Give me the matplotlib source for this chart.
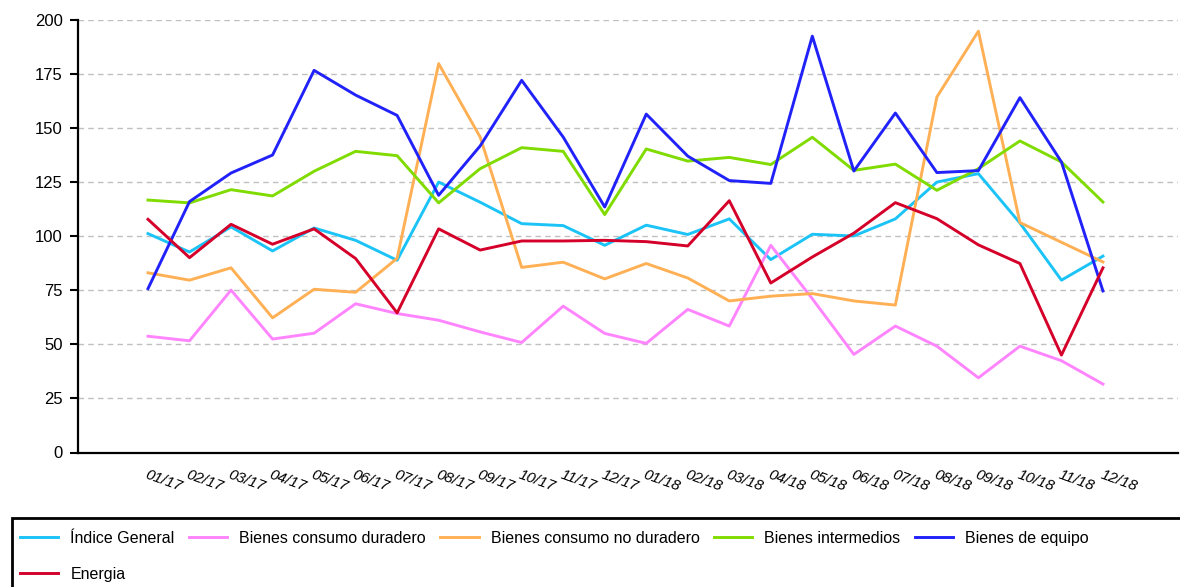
import matplotlib
matplotlib.use('Agg')
from matplotlib import pyplot as plt
from matplotlib.patches import Rectangle

plt.rcParams['font.family'] = ['Liberation Sans', 'DejaVu Sans']

# meses
meses = ['01/17', '02/17', '03/17', '04/17', '05/17', '06/17', '07/17', '08/17',
         '09/17', '10/17', '11/17', '12/17', '01/18', '02/18', '03/18', '04/18',
         '05/18', '06/18', '07/18', '08/18', '09/18', '10/18', '11/18', '12/18']

indice_general = [101.1, 92.6, 104.2, 93.1, 103.7, 98.0, 88.8, 124.9,
                  115.6, 105.7, 104.8, 95.7, 105.0, 100.7, 107.9, 89.1,
                  100.8, 100.0, 107.9, 124.9, 128.8, 106.0, 79.6, 90.7]
consumo_duradero = [53.7, 51.6, 75.0, 52.4, 55.1, 68.7, 64.2, 61.1,
                    55.7, 50.8, 67.6, 55.0, 50.4, 66.1, 58.4, 95.7,
                    71.0, 45.3, 58.4, 49.1, 34.5, 49.1, 42.4, 31.6]
consumo_no_duradero = [83.0, 79.6, 85.3, 62.2, 75.4, 74.0, 89.7, 179.6,
                       145.7, 85.5, 87.9, 80.2, 87.3, 80.6, 70.0, 72.2,
                       73.4, 70.0, 68.1, 164.2, 194.6, 106.2, 97.1, 88.0]
intermedios = [116.6, 115.3, 121.4, 118.5, 129.9, 139.1, 137.1, 115.3,
               131.1, 140.8, 139.1, 109.9, 140.2, 134.6, 136.3, 133.0,
               145.6, 130.3, 133.2, 121.1, 131.1, 143.9, 134.2, 115.7]
equipo = [75.7, 115.9, 129.1, 137.4, 176.5, 165.1, 155.7, 118.8,
          141.6, 171.9, 145.7, 113.4, 156.3, 136.9, 125.6, 124.3,
          192.3, 130.0, 156.8, 129.3, 130.2, 163.9, 134.2, 74.6]
energia = [107.7, 90.0, 105.4, 96.2, 103.3, 89.6, 64.5, 103.3,
           93.5, 97.7, 97.7, 98.0, 97.4, 95.4, 116.3, 78.3,
           90.3, 101.3, 115.4, 108.0, 95.9, 87.3, 45.0, 85.3]

series = [
    ('Índice General', indice_general, '#1cc3f7'),
    ('Bienes consumo duradero', consumo_duradero, '#ff85ff'),
    ('Bienes consumo no duradero', consumo_no_duradero, '#ffb055'),
    ('Bienes intermedios', intermedios, '#80dc00'),
    ('Bienes de equipo', equipo, '#2121fa'),
    ('Energia', energia, '#d4002a'),
]

fig = plt.figure(figsize=(11.8, 5.87), dpi=100)
ax = fig.add_axes([78/1180, 1-452.5/587, 1100/1180, 433/587])

x = list(range(len(meses)))
handles = []
for nombre, valores, color in series:
    h, = ax.plot(x, valores, color=color, linewidth=2.1, label=nombre)
    handles.append(h)

ax.set_ylim(0, 200)
ax.set_xlim(-70/41.52, -70/41.52 + 1100/41.52)
ax.set_yticks(range(0, 201, 25))
ax.yaxis.grid(True, color='#c0c0c0', linestyle=(0, (4, 3)), linewidth=1.0)
ax.set_axisbelow(True)

for s in ['top', 'right']:
    ax.spines[s].set_visible(False)
ax.spines['left'].set_linewidth(1.6)
ax.spines['bottom'].set_linewidth(1.6)

ax.tick_params(axis='y', length=6, width=1.5, pad=5, labelsize=12)
ax.tick_params(axis='x', length=0, pad=11)
ax.set_xticks(x)
ax.set_xticklabels(meses, rotation=-20, ha='left', va='top', rotation_mode='anchor',
                   fontsize=11, style='italic')

# leyenda (orden por columnas)
orden = [0, 5, 1, 2, 3, 4]
fig.legend([handles[i] for i in orden], [series[i][0] for i in orden],
           loc='upper left', bbox_to_anchor=(20/1180, 1-531/587), ncol=5,
           frameon=False, fontsize=11.5, handlelength=2.4, handletextpad=0.75,
           columnspacing=0.9, labelspacing=1.3, borderpad=0, borderaxespad=0)
fig.add_artist(Rectangle((12/1180, -0.1), 1.1, 0.1 + 1-518/587, transform=fig.transFigure,
                         fill=False, edgecolor='black', linewidth=2, clip_on=False))

plt.savefig('out.png', dpi=100)
